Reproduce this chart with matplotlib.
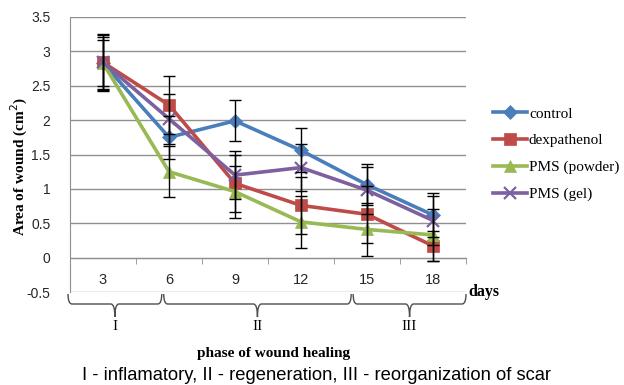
import matplotlib
matplotlib.use("Agg")
import matplotlib.pyplot as plt
from matplotlib.path import Path
from matplotlib.patches import PathPatch
from matplotlib.transforms import blended_transform_factory
import numpy as np

# Days of observation (category axis)
days = ["3", "6", "9", "12", "15", "18"]

# Mean wound area (cm^2) per group
control = [2.83, 1.75, 1.99, 1.56, 1.06, 0.62]
dexpathenol = [2.84, 2.22, 1.08, 0.76, 0.63, 0.17]
pms_powder = [2.83, 1.25, 0.96, 0.52, 0.41, 0.33]
pms_gel = [2.84, 2.02, 1.20, 1.31, 0.98, 0.54]

# Standard deviations
control_err = [0.38, 0.31, 0.30, 0.32, 0.30, 0.32]
dexpathenol_err = [0.42, 0.42, 0.42, 0.42, 0.41, 0.22]
pms_powder_err = [0.34, 0.37, 0.38, 0.38, 0.38, 0.38]
pms_gel_err = [0.40, 0.36, 0.35, 0.34, 0.34, 0.36]

y_ticks = [-0.5, 0, 0.5, 1, 1.5, 2, 2.5, 3, 3.5]

# Healing phases: label and span in category units
phases = ["I", "II", "III"]
phase_spans = [(-0.53, 0.89), (0.92, 3.76), (3.79, 5.5)]

SANS = "Liberation Sans"
SERIF = "Liberation Serif"

W, H = 624, 385
fig = plt.figure(figsize=(W / 100, H / 100), dpi=100)
ax = fig.add_axes([70 / W, 1 - 292 / H, 396 / W, 275 / H])

x = np.arange(len(days))
series = [
    ("control", control, control_err, "#4A7EBB", "D", 7.5),
    ("dexpathenol", dexpathenol, dexpathenol_err, "#BE4B48", "s", 8.5),
    ("PMS (powder)", pms_powder, pms_powder_err, "#98B954", "^", 9),
    ("PMS (gel)", pms_gel, pms_gel_err, "#7D60A0", "x", 9),
]

handles = []
for name, vals, err, color, marker, ms in series:
    (ln,) = ax.plot(x, vals, color=color, lw=2.6, marker=marker, ms=ms,
                    mew=1.6 if marker == "x" else 0.5, mec=color, mfc=color,
                    label=name, zorder=3)
    handles.append(ln)
    ax.errorbar(x, vals, yerr=err, fmt="none", ecolor="black",
                elinewidth=1, capsize=4, capthick=1, zorder=4)

ax.set_xlim(-0.5, 5.5)
ax.set_ylim(-0.5, 3.5)
ax.set_yticks(y_ticks)
ax.set_yticklabels([f"{v:g}" for v in y_ticks], fontfamily=SANS, fontsize=10)
ax.tick_params(axis="y", length=0, pad=14, colors="#262626")
ax.yaxis.grid(True, color="#8f8f8f", lw=1)
ax.set_axisbelow(True)

for s in ("top", "right"):
    ax.spines[s].set_visible(False)
ax.spines["left"].set_color("#8f8f8f")
ax.spines["bottom"].set_position(("data", 0))
ax.spines["bottom"].set_color("#8f8f8f")

# Category labels sit below the zero line; boundary ticks on the line
ax.set_xticks(x)
ax.set_xticklabels(days, fontfamily=SANS, fontsize=10.5)
ax.set_xticks(np.arange(-0.5, 6.0, 1.0), minor=True)
ax.tick_params(axis="x", which="major", length=0, pad=11, colors="#262626")
ax.tick_params(axis="x", which="minor", length=4, color="#8f8f8f", direction="out")

ax.text(1.005, 0.0, "days", transform=ax.transAxes, fontfamily=SERIF,
        fontweight="bold", fontsize=11.5, ha="left", va="center")

# Curly braces marking the healing phases
trans = blended_transform_factory(ax.transData, ax.transAxes)
px = 1 / 275
y_top, y_mid, y_tip = -2 * px, -12 * px, -25 * px
for label, (x0, x1) in zip(phases, phase_spans):
    xc = (x0 + x1) / 2
    r = 0.06
    verts = [
        (x0, y_top), (x0, y_mid), (x0 + r, y_mid),
        (xc - r, y_mid), (xc, y_mid), (xc, y_tip),
        (xc, y_mid), (xc + r, y_mid),
        (x1 - r, y_mid), (x1, y_mid), (x1, y_top),
    ]
    codes = [Path.MOVETO, Path.CURVE3, Path.CURVE3,
             Path.LINETO, Path.CURVE3, Path.CURVE3,
             Path.CURVE3, Path.CURVE3,
             Path.LINETO, Path.CURVE3, Path.CURVE3]
    ax.add_patch(PathPatch(Path(verts, codes), transform=trans, fill=False,
                           edgecolor="#4d4d4d", lw=1, clip_on=False))
    ax.text(xc, -35 * px, label, transform=trans, fontfamily=SERIF,
            fontsize=11, ha="center", va="center")

fig.text(274 / W, 1 - 353 / H, "phase of wound healing", fontfamily=SERIF,
         fontweight="bold", fontsize=11, ha="center", va="center")
fig.text(317 / W, 1 - 375 / H,
         "I - inflamatory, II - regeneration, III - reorganization of scar",
         fontfamily=SANS, fontsize=13.2, ha="center", va="center")
fig.text(19 / W, 1 - 167 / H, "Area of wound (cm$^{2}$)", rotation=90,
         fontfamily=SERIF, fontweight="bold", fontsize=11,
         ha="center", va="center")

fig.legend(handles=handles, loc="center left",
           bbox_to_anchor=(493 / W, 1 - 154 / H), frameon=False,
           prop={"family": SERIF, "size": 11}, handlelength=2.2,
           handletextpad=0.15, labelspacing=0.85, borderpad=0,
           borderaxespad=0)

fig.savefig("out.png", dpi=100)
